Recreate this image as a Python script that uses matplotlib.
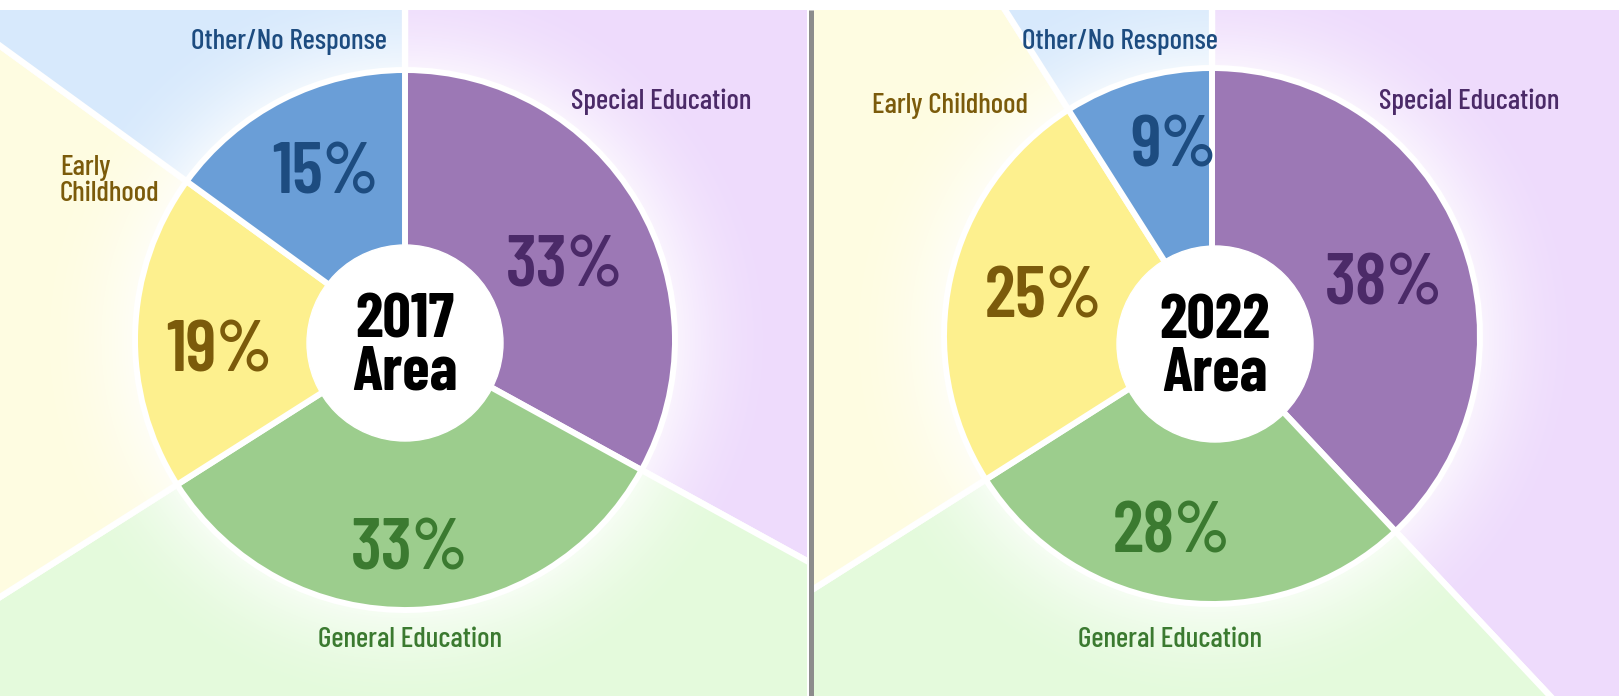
import numpy as np
import matplotlib.pyplot as plt

# data
categories = ['Special Education', 'General Education', 'Early Childhood', 'Other/No Response']
years = ['2017', '2022']
share_2017 = [33, 33, 19, 15]
share_2022 = [38, 28, 25, 9]

ring_colors = ['#9c78b5', '#9ccd8d', '#fdf08e', '#6a9ed7']
field_colors = ['#eedbfc', '#e4fadc', '#fefce1', '#d7e9fc']
text_colors = ['#4b2a68', '#3b7a30', '#7b5b0b', '#1d4c80']

W, H = 1619, 696
TOP = H - 10
R_HOLE = 98
FONT = ['Barlow Condensed', 'Encode Sans Condensed', 'DejaVu Sans']

# layout per panel (pixel coords measured from the top-left corner)
panels = [
    dict(center=(405, 340), radius=270, hole=(405, 343), box=(0, 807),
         names=[(661, 102, 'center', 'Special Education'), (410, 640, 'center', 'General Education'),
                (60, 181, 'left', 'Early\nChildhood'), (289, 42, 'center', 'Other/No Response')],
         pcts=[(565, 268), (410, 551), (219, 353), (325, 175)]),
    dict(center=(1212, 336), radius=268, hole=(1215, 344), box=(814, W),
         names=[(1469, 102, 'center', 'Special Education'), (1170, 640, 'center', 'General Education'),
                (950, 106, 'center', 'Early Childhood'), (1120, 42, 'center', 'Other/No Response')],
         pcts=[(1384, 286), (1172, 534), (1043, 299), (1174, 148)]),
]

fig = plt.figure(figsize=(W / 100, H / 100), dpi=100)

for year, values, p in zip(years, [share_2017, share_2022], panels):
    x0, x1 = p['box']
    ax = fig.add_axes([x0 / W, 0, (x1 - x0) / W, TOP / H])
    cx, cy = p['center'][0], H - p['center'][1]
    hx, hy = p['hole'][0], H - p['hole'][1]
    R = p['radius']

    # light background sectors running out to the panel edges
    bg, _ = ax.pie(values, colors=field_colors, startangle=90, counterclock=False,
                   radius=2500, center=(cx, cy),
                   wedgeprops=dict(edgecolor='white', linewidth=4.5))
    for w in bg:
        w.set_zorder(1)
        w.set_clip_on(True)  # pie wedges are unclipped by default

    # soft white halo round the ring
    yy, xx = np.mgrid[0:TOP, x0:x1] + 0.5
    r = np.hypot(xx - cx, yy - cy)
    glow = np.ones((TOP, x1 - x0, 4))
    glow[..., 3] = 0.7 * np.clip(1 - (r - R) / 110, 0, 1) ** 2 * (r >= R - 5)
    ax.imshow(glow, extent=(x0, x1, 0, TOP), origin='lower', zorder=1.5, interpolation='bilinear')

    # donut
    ring, _ = ax.pie(values, colors=ring_colors, startangle=90, counterclock=False,
                     radius=R, center=(cx, cy),
                     wedgeprops=dict(width=R - R_HOLE + 20, edgecolor='white', linewidth=4.3))
    for w in ring:
        w.set_zorder(2)
        w.set_clip_on(True)
    ax.add_patch(plt.Circle((hx, hy), R_HOLE, color='white', zorder=2.5))

    ax.text(hx, hy - 4, f'{year}\nArea', ha='center', va='center', fontsize=45, fontweight='bold',
            family=FONT, color='black', linespacing=0.95, zorder=3)

    for (tx, ty, ha, label), v, (px, py), tc in zip(p['names'], values, p['pcts'], text_colors):
        ax.text(tx, H - ty, label, ha=ha, va='center', multialignment='left', fontsize=21,
                fontweight='medium', family=FONT, color=tc, linespacing=1.0, zorder=3)
        ax.text(px, H - py, f'{v}%', ha='center', va='center', fontsize=52,
                fontweight='semibold', family=FONT, color=tc, zorder=3)

    ax.set_xlim(x0, x1)
    ax.set_ylim(0, TOP)
    ax.set_aspect('auto')
    ax.axis('off')

# grey divider between the two years
fig.add_artist(plt.Line2D([810.5 / W, 810.5 / W], [0, TOP / H], color='#8c8c8c', lw=3.6,
                          solid_capstyle='butt', transform=fig.transFigure))

fig.savefig('out.png', dpi=100, facecolor='white')
